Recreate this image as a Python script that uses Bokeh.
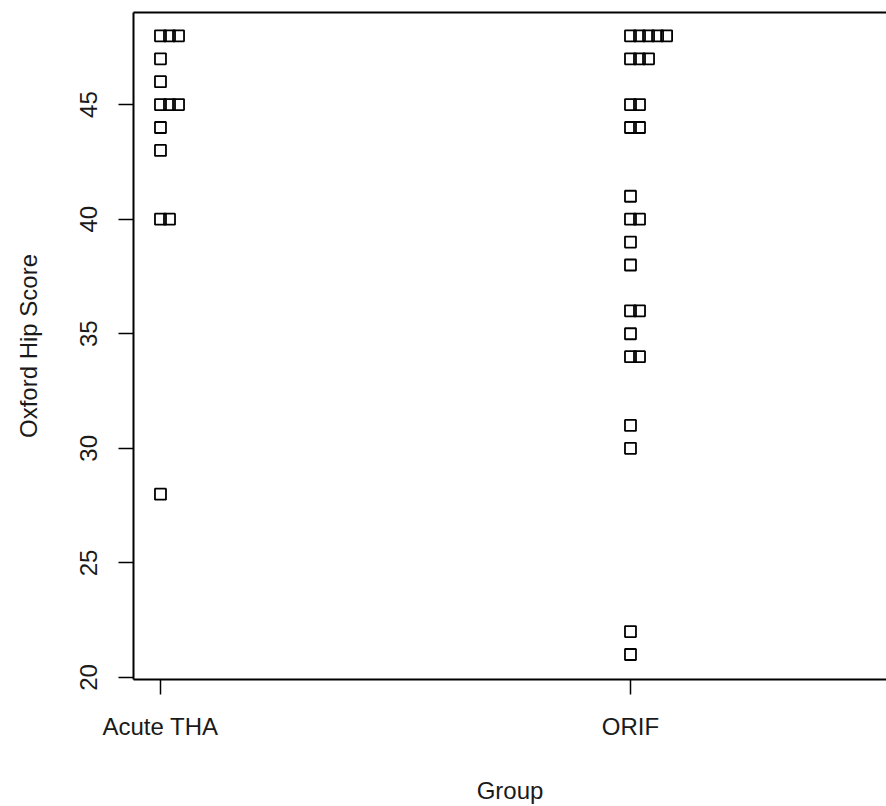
from collections import Counter
from bokeh.plotting import figure
from bokeh.models import FixedTicker, LinearAxis, Range1d, ColumnDataSource
from bokeh.embed import file_html
from bokeh.resources import INLINE

# ---- data ----
groups = ["Acute THA", "ORIF"]
acute_tha = [48, 48, 48, 47, 46, 45, 45, 45, 44, 43, 40, 40, 28]
orif = [48, 48, 48, 48, 48, 47, 47, 47, 45, 45, 44, 44, 41, 40, 40, 39, 38,
        36, 36, 35, 34, 34, 31, 30, 22, 21]
y_ticks = [20, 25, 30, 35, 40, 45]

# stacked strip chart layout (like R stripchart(method="stack"))
STACK_STEP = 0.0192
xs, ys = [], []
for gi, vals in enumerate([acute_tha, orif], start=1):
    seen = Counter()
    for v in vals:
        xs.append(gi + seen[v] * STACK_STEP)
        ys.append(v)
        seen[v] += 1
src = ColumnDataSource(dict(x=xs, y=ys))

FONT = "Liberation Sans"
TXT = "#1a1a1a"

p = figure(width=886, height=806, output_backend="svg", toolbar_location=None,
           x_range=Range1d(0.9426, 2.5447), y_range=Range1d(19.91, 49.02),
           x_axis_location=None, y_axis_location=None,
           min_border_left=133, min_border_top=12, min_border_bottom=126,
           min_border_right=0)
p.outline_line_color = None
p.grid.grid_line_color = None
p.background_fill_color = "white"
p.border_fill_color = "white"

p.scatter("x", "y", source=src, marker="square", size=11,
          line_color="black", line_width=1.8, fill_color=None)

# left axis
ya = LinearAxis(ticker=FixedTicker(ticks=y_ticks), axis_label="Oxford Hip Score")
ya.major_tick_out = 15
ya.major_tick_in = 0
ya.minor_tick_line_color = None
ya.axis_line_width = 2
ya.major_tick_line_width = 1.5
ya.major_label_orientation = "vertical"
ya.major_label_standoff = 21
ya.major_label_text_font = FONT
ya.major_label_text_font_size = "24px"
ya.major_label_text_color = TXT
ya.axis_label_text_font = FONT
ya.axis_label_text_font_size = "24px"
ya.axis_label_text_font_style = "normal"
ya.axis_label_text_color = TXT
ya.axis_label_standoff = 36
p.add_layout(ya, "left")

# bottom axis
xa = LinearAxis(ticker=FixedTicker(ticks=[1, 2]), axis_label="Group")
xa.major_label_overrides = {1: groups[0], 2: groups[1]}
xa.major_tick_out = 15
xa.major_tick_in = 0
xa.minor_tick_line_color = None
xa.axis_line_width = 2
xa.major_tick_line_width = 1.5
xa.major_label_standoff = 18
xa.major_label_text_font = FONT
xa.major_label_text_font_size = "24px"
xa.major_label_text_color = TXT
xa.axis_label_text_font = FONT
xa.axis_label_text_font_size = "24px"
xa.axis_label_text_font_style = "normal"
xa.axis_label_text_color = TXT
xa.axis_label_standoff = 34
p.add_layout(xa, "below")

# top box line
ta = LinearAxis(ticker=FixedTicker(ticks=[]))
ta.axis_line_width = 2
ta.major_tick_line_color = None
ta.minor_tick_line_color = None
ta.major_label_text_font_size = "0px"
p.add_layout(ta, "above")

open("out.html", "w").write(file_html(p, INLINE))
